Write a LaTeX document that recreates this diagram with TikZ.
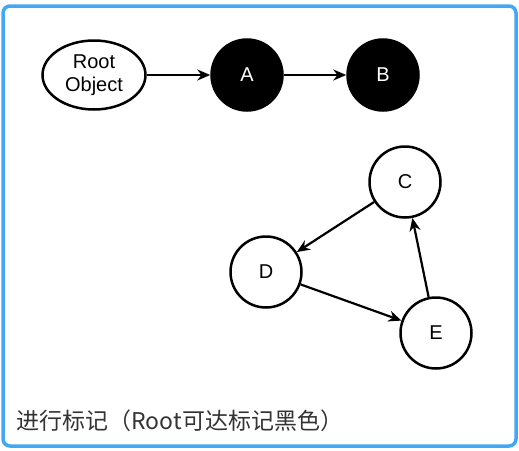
\documentclass[tikz,border=0pt]{standalone}
\usepackage{fontspec}
\setmainfont{Liberation Sans}
\newfontfamily\cjk{Noto Sans CJK SC}
\usepackage{tikz}
\usetikzlibrary{positioning, arrows.meta, shapes.geometric}

\definecolor{frameblue}{RGB}{66,167,245}
\definecolor{labelgray}{RGB}{51,51,51}

\begin{document}
\begin{tikzpicture}[
        x=1pt, y=-1pt,
        obj/.style={circle, draw, line width=2.5pt, minimum size=71pt, inner sep=0pt, font=\fontsize{20}{23}\selectfont},
        marked/.style={obj, fill=black, text=white},
        rootobj/.style={ellipse, draw, line width=2.5pt, minimum width=103pt, minimum height=69pt, inner sep=0pt, align=center, font=\fontsize{20}{23}\selectfont},
        arrow/.style={-{Stealth[length=13pt, width=11pt]}, line width=2.2pt},
    ]
        \useasboundingbox (0,0) rectangle (519,450);
        \draw[frameblue, line width=3.5pt, rounded corners=7pt] (3,6) rectangle (516,446);

        \node[rootobj] (root) at (94,75) {Root\\Object};
        \node[marked] (a) at (247,75) {A};
        \node[marked] (b) at (383,75) {B};
        \node[obj] (c) at (405,182) {C};
        \node[obj] (d) at (266,272) {D};
        \node[obj] (e) at (436,333) {E};

        \draw[arrow] (root) -- (a);
        \draw[arrow] (a) -- (b);
        \draw[arrow] (c) -- (d);
        \draw[arrow] (d) -- (e);
        \draw[arrow] (e) -- (c);

        \node[anchor=west, text=labelgray, font=\cjk\fontsize{23}{26}\selectfont] (caption) at (13,421) {进行标记（Root可达标记黑色）};
    \end{tikzpicture}
\end{document}
